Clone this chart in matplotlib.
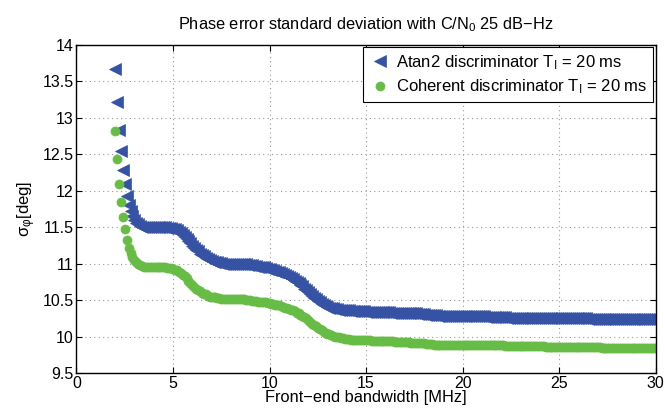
import matplotlib
matplotlib.use("Agg")
import matplotlib.pyplot as plt
import numpy as np

plt.rcParams['font.family'] = ['Liberation Sans', 'DejaVu Sans']
plt.rcParams['mathtext.fontset'] = 'custom'
plt.rcParams['mathtext.rm'] = 'Liberation Sans'
plt.rcParams['mathtext.it'] = 'Liberation Sans'

title = "Phase error standard deviation with C/N$_0$ 25 dB\u2212Hz"
xlabel = "Front\u2212end bandwidth [MHz]"
ylabel = "\u03c3$_\u03c6$[deg]"
labels = ["Atan2 discriminator T$_\\mathrm{I}$ = 20 ms",
          "Coherent discriminator T$_\\mathrm{I}$ = 20 ms"]
xticks = [0, 5, 10, 15, 20, 25, 30]
yticks = [9.5, 10, 10.5, 11, 11.5, 12, 12.5, 13, 13.5, 14]

# bandwidth from 2.0 to 30.0 MHz in 0.1 MHz steps (281 samples)
bandwidth = [round(2.0 + 0.1 * i, 1) for i in range(281)]

atan2 = [
    13.67, 13.22, 12.84, 12.54, 12.29, 12.09, 11.93, 11.81, 11.72, 11.65,   # 2.0
    11.60, 11.56, 11.54, 11.52, 11.51, 11.50, 11.50, 11.50, 11.50, 11.50,   # 3.0
    11.50, 11.50, 11.50, 11.50, 11.50, 11.50, 11.50, 11.49, 11.49, 11.49,   # 4.0
    11.48, 11.47, 11.46, 11.44, 11.42, 11.40, 11.37, 11.34, 11.31, 11.28,   # 5.0
    11.25, 11.22, 11.19, 11.17, 11.14, 11.12, 11.10, 11.08, 11.07, 11.05,   # 6.0
    11.04, 11.03, 11.02, 11.02, 11.01, 11.01, 11.00, 11.00, 11.00, 11.00,   # 7.0
    11.00, 11.00, 11.00, 11.00, 11.00, 10.99, 10.99, 10.99, 10.99, 10.98,   # 8.0
    10.98, 10.98, 10.97, 10.97, 10.96, 10.96, 10.95, 10.95, 10.94, 10.93,   # 9.0
    10.93, 10.92, 10.91, 10.90, 10.89, 10.88, 10.87, 10.86, 10.84, 10.83,   # 10.0
    10.82, 10.80, 10.79, 10.77, 10.75, 10.73, 10.71, 10.69, 10.66, 10.64,   # 11.0
    10.61, 10.59, 10.56, 10.53, 10.51, 10.49, 10.47, 10.45, 10.44, 10.42,   # 12.0
    10.41, 10.40, 10.39, 10.39, 10.38, 10.38, 10.37, 10.37, 10.36, 10.36,   # 13.0
    10.36, 10.36, 10.35, 10.35, 10.35, 10.35, 10.35, 10.35, 10.35, 10.35,   # 14.0
    10.34, 10.34, 10.34, 10.34, 10.34, 10.34, 10.34, 10.34, 10.34, 10.34,   # 15.0
    10.34, 10.34, 10.34, 10.33, 10.33, 10.33, 10.33, 10.33, 10.33, 10.33,   # 16.0
    10.33, 10.33, 10.33, 10.32, 10.32, 10.32, 10.32, 10.31, 10.31, 10.31,   # 17.0
    10.31, 10.30, 10.30, 10.30, 10.30, 10.30, 10.30, 10.29, 10.29, 10.29,   # 18.0
    10.29, 10.29, 10.29, 10.29, 10.29, 10.29, 10.28, 10.28, 10.28, 10.28,   # 19.0
    10.28, 10.28, 10.28, 10.28, 10.28, 10.28, 10.28, 10.28, 10.28, 10.28,   # 20.0
    10.28, 10.28, 10.27, 10.27, 10.27, 10.27, 10.27, 10.27, 10.27, 10.27,   # 21.0
    10.27, 10.27, 10.27, 10.26, 10.26, 10.26, 10.26, 10.26, 10.26, 10.26,   # 22.0
    10.26, 10.26, 10.26, 10.26, 10.26, 10.26, 10.26, 10.26, 10.26, 10.26,   # 23.0
    10.26, 10.26, 10.25, 10.25, 10.25, 10.25, 10.25, 10.25, 10.25, 10.25,   # 24.0
    10.25, 10.25, 10.25, 10.25, 10.25, 10.25, 10.25, 10.25, 10.25, 10.25,   # 25.0
    10.25, 10.25, 10.25, 10.25, 10.25, 10.24, 10.24, 10.24, 10.24, 10.24,   # 26.0
    10.24, 10.24, 10.24, 10.24, 10.24, 10.24, 10.24, 10.24, 10.24, 10.24,   # 27.0
    10.24, 10.24, 10.24, 10.24, 10.24, 10.24, 10.24, 10.24, 10.24, 10.24,   # 28.0
    10.24, 10.24, 10.24, 10.24, 10.24, 10.24, 10.24, 10.24, 10.24, 10.24,   # 29.0
    10.24,                                                                  # 30.0
]

coherent = [
    12.82, 12.43, 12.10, 11.84, 11.64, 11.47, 11.33, 11.22, 11.15, 11.09,   # 2.0
    11.05, 11.02, 11.00, 10.98, 10.97, 10.96, 10.96, 10.96, 10.95, 10.95,   # 3.0
    10.95, 10.95, 10.95, 10.95, 10.95, 10.95, 10.95, 10.94, 10.94, 10.94,   # 4.0
    10.93, 10.92, 10.91, 10.89, 10.87, 10.85, 10.83, 10.80, 10.77, 10.74,   # 5.0
    10.71, 10.68, 10.66, 10.64, 10.62, 10.60, 10.59, 10.58, 10.56, 10.55,   # 6.0
    10.55, 10.54, 10.54, 10.53, 10.53, 10.52, 10.52, 10.52, 10.52, 10.52,   # 7.0
    10.52, 10.52, 10.52, 10.52, 10.51, 10.51, 10.51, 10.51, 10.50, 10.50,   # 8.0
    10.50, 10.49, 10.49, 10.49, 10.48, 10.48, 10.48, 10.47, 10.47, 10.46,   # 9.0
    10.46, 10.45, 10.45, 10.44, 10.43, 10.43, 10.42, 10.41, 10.40, 10.39,   # 10.0
    10.38, 10.37, 10.36, 10.35, 10.33, 10.32, 10.30, 10.29, 10.27, 10.25,   # 11.0
    10.23, 10.20, 10.18, 10.16, 10.14, 10.12, 10.10, 10.09, 10.07, 10.05,   # 12.0
    10.04, 10.03, 10.02, 10.01, 10.00, 9.99, 9.99, 9.98, 9.98, 9.97,        # 13.0
    9.97, 9.97, 9.96, 9.96, 9.96, 9.96, 9.95, 9.95, 9.95, 9.95,             # 14.0
    9.95, 9.95, 9.95, 9.94, 9.94, 9.94, 9.94, 9.94, 9.94, 9.94,             # 15.0
    9.94, 9.94, 9.94, 9.94, 9.94, 9.93, 9.93, 9.93, 9.93, 9.93,             # 16.0
    9.93, 9.93, 9.93, 9.92, 9.92, 9.92, 9.92, 9.91, 9.91, 9.91,             # 17.0
    9.91, 9.90, 9.90, 9.90, 9.90, 9.89, 9.89, 9.89, 9.89, 9.89,             # 18.0
    9.89, 9.89, 9.89, 9.89, 9.89, 9.89, 9.89, 9.89, 9.89, 9.89,             # 19.0
    9.89, 9.89, 9.88, 9.88, 9.88, 9.88, 9.88, 9.88, 9.88, 9.88,             # 20.0
    9.88, 9.88, 9.88, 9.88, 9.88, 9.88, 9.88, 9.88, 9.88, 9.88,             # 21.0
    9.88, 9.88, 9.87, 9.87, 9.87, 9.87, 9.87, 9.87, 9.87, 9.87,             # 22.0
    9.87, 9.87, 9.87, 9.87, 9.87, 9.87, 9.87, 9.87, 9.87, 9.87,             # 23.0
    9.87, 9.87, 9.87, 9.86, 9.86, 9.86, 9.86, 9.86, 9.86, 9.86,             # 24.0
    9.86, 9.86, 9.86, 9.86, 9.86, 9.86, 9.86, 9.86, 9.86, 9.86,             # 25.0
    9.86, 9.86, 9.86, 9.86, 9.86, 9.86, 9.86, 9.86, 9.86, 9.86,             # 26.0
    9.86, 9.86, 9.85, 9.85, 9.85, 9.85, 9.85, 9.85, 9.85, 9.85,             # 27.0
    9.85, 9.85, 9.85, 9.85, 9.85, 9.85, 9.85, 9.85, 9.85, 9.85,             # 28.0
    9.85, 9.85, 9.85, 9.85, 9.85, 9.84, 9.84, 9.84, 9.84, 9.84,             # 29.0
    9.84,                                                                   # 30.0
]

blue = "#3552a5"
green = "#67bc45"

fig = plt.figure(figsize=(6.65, 4.16), dpi=100)
ax = fig.add_axes([0.115, 0.103, 0.871, 0.789])

ax.plot(bandwidth, atan2, linestyle='none', marker='<', markersize=8.2,
        color=blue, markeredgecolor=blue, markeredgewidth=0.5, label=labels[0])
ax.plot(bandwidth, coherent, linestyle='none', marker='o', markersize=6.5,
        color=green, markeredgecolor=green, markeredgewidth=0.5, label=labels[1])

ax.set_xlim(0, 30)
ax.set_ylim(9.5, 14)
ax.set_xticks(xticks)
ax.set_yticks(yticks)
ax.set_xticklabels([f"{t:g}" for t in xticks])
ax.set_yticklabels([f"{t:g}" for t in yticks])
ax.grid(True, linestyle=(0, (1, 3)), color='#999999', linewidth=0.8)
ax.tick_params(direction='in', top=True, right=True, length=4, width=0.8,
               labelsize=11.5, pad=2, colors='black')
for s in ax.spines.values():
    s.set_linewidth(1.0)
    s.set_color('black')

ax.set_title(title, fontsize=11.8, pad=11)
ax.set_xlabel(xlabel, fontsize=11.8, labelpad=-1)
ax.set_ylabel(ylabel, fontsize=12, labelpad=3)

leg = ax.legend(loc='upper right', numpoints=1, fontsize=12, frameon=True,
                fancybox=False, edgecolor='black', framealpha=1,
                borderaxespad=0.15, handletextpad=0.3, handlelength=1.3,
                borderpad=0.35, labelspacing=0.35)
leg.get_frame().set_linewidth(0.8)

fig.savefig("out.png", dpi=100)
